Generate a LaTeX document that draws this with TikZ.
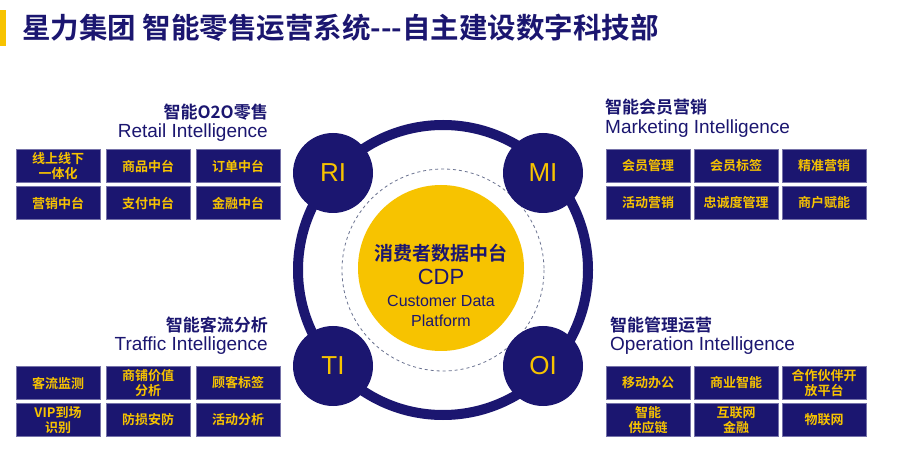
\documentclass[tikz,border=0pt]{standalone}
\usepackage{fontspec}
\setmainfont{Noto Sans CJK SC}
\newfontfamily\cjkb{Noto Sans CJK SC Bold}
\newfontfamily\lat{Liberation Sans}
\definecolor{navy}{HTML}{1B1670}
\definecolor{gold}{HTML}{F7C300}
\definecolor{dashc}{HTML}{6A7290}
\tikzset{x=1pt,y=-1pt,
 bx/.style={fill=navy,draw=navy!60,line width=0.6pt,minimum width=84pt,minimum height=33pt,inner sep=1pt,align=center,text=gold,font=\cjkb\fontsize{13}{15.5}\selectfont},
 sat/.style={circle,fill=navy,minimum size=80pt,text=gold,font=\lat\fontsize{26}{26}\selectfont},
 hz/.style={text=navy,font=\cjkb\fontsize{17}{18}\selectfont,inner sep=0pt},
 he/.style={text=navy,font=\lat\fontsize{19}{20}\selectfont,inner sep=0pt},
 ct/.style={text=navy,inner sep=0pt}}
\begin{document}
\begin{tikzpicture}
\useasboundingbox[fill=white] (0,0) rectangle (900,462);
\fill[gold] (0,10) rectangle (6,46);
\node[anchor=west,text=navy,font=\cjkb\fontsize{28.5}{30}\selectfont,inner sep=0pt] (title) at (22,28) {星力集团 智能零售运营系统---自主建设数字科技部};
% ring
\draw[navy,line width=10pt] (443,270) circle (145);
\draw[dashc,dashed,line width=0.8pt] (443,270) circle (101);
\node[circle,fill=gold,minimum size=166pt,inner sep=0pt] (cdp) at (441,268) {};
\node[ct,font=\cjkb\fontsize{19}{20}\selectfont] (c1t) at (441,253) {消费者数据中台};
\node[ct,font=\lat\fontsize{22}{22}\selectfont] (c2t) at (441,277) {CDP};
\node[ct,font=\lat\fontsize{16}{17}\selectfont] (c3t) at (441,301) {Customer Data};
\node[ct,font=\lat\fontsize{16}{17}\selectfont] (c4t) at (441,321) {Platform};
\node[sat] (ri) at (333,173) {RI};
\node[sat] (mi) at (543,173) {MI};
\node[sat] (ti) at (333,366) {TI};
\node[sat] (oi) at (543,366) {OI};
% headings
\node[hz,anchor=east] (h1) at (268,112) {智能O2O零售};
\node[he,anchor=east] (e1) at (268,133) {Retail Intelligence};
\node[hz,anchor=west] (h2) at (605,107) {智能会员营销};
\node[he,anchor=west] (e2) at (605,129) {Marketing Intelligence};
\node[hz,anchor=east] (h3) at (268,325) {智能客流分析};
\node[he,anchor=east] (e3) at (268,346) {Traffic Intelligence};
\node[hz,anchor=west] (h4) at (610,325) {智能管理运营};
\node[he,anchor=west] (e4) at (610,346) {Operation Intelligence};
% boxes top-left
\node[bx] (a1) at (58,166) {线上线下\\一体化};
\node[bx] (a2) at (148,166) {商品中台};
\node[bx] (a3) at (238,166) {订单中台};
\node[bx] (a4) at (58,203) {营销中台};
\node[bx] (a5) at (148,203) {支付中台};
\node[bx] (a6) at (238,203) {金融中台};
% top-right
\node[bx] (b1) at (648,166) {会员管理};
\node[bx] (b2) at (736,166) {会员标签};
\node[bx] (b3) at (824,166) {精准营销};
\node[bx] (b4) at (648,203) {活动营销};
\node[bx] (b5) at (736,203) {忠诚度管理};
\node[bx] (b6) at (824,203) {商户赋能};
% bottom-left
\node[bx] (c1) at (58,383) {客流监测};
\node[bx] (c2) at (148,383) {商铺价值\\分析};
\node[bx] (c3) at (238,383) {顾客标签};
\node[bx] (c4) at (58,420) {VIP到场\\识别};
\node[bx] (c5) at (148,420) {防损安防};
\node[bx] (c6) at (238,420) {活动分析};
% bottom-right
\node[bx] (d1) at (648,383) {移动办公};
\node[bx] (d2) at (736,383) {商业智能};
\node[bx] (d3) at (824,383) {合作伙伴开\\放平台};
\node[bx] (d4) at (648,420) {智能\\供应链};
\node[bx] (d5) at (736,420) {互联网\\金融};
\node[bx] (d6) at (824,420) {物联网};
\end{tikzpicture}
\end{document}
